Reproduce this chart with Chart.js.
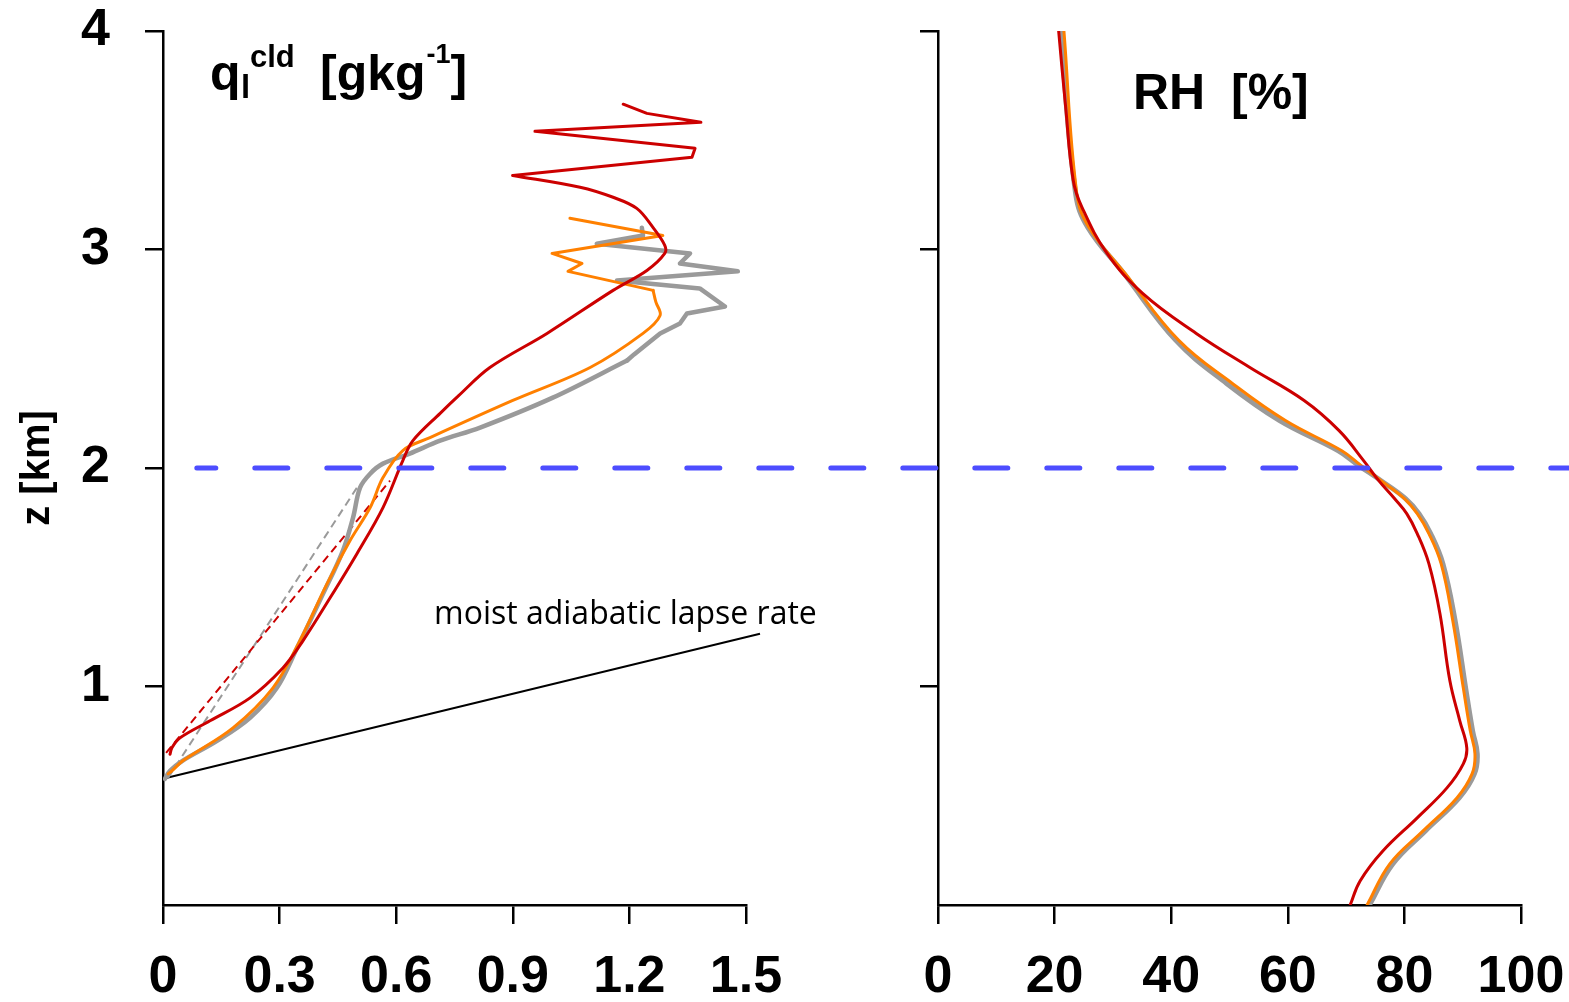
<!DOCTYPE html>
<html>
<head>
<meta charset="utf-8">
<script src="https://cdn.jsdelivr.net/npm/chart.js@4.4.0/dist/chart.umd.min.js"></script>
<style>
  body { margin: 0; background: #fff; }
  #wrap { position: relative; width: 1569px; height: 1002px; }
  canvas { position: absolute; left: 0; top: 0; }
</style>
</head>
<body>
<div id="wrap">
  <canvas id="rhChart" width="1569" height="1002"></canvas>
  <canvas id="qlChart" width="1569" height="1002"></canvas>
</div>
<script>
// ---- tick labels ----
const qlTicks = [0, 0.3, 0.6, 0.9, 1.2, 1.5];
const rhTicks = [0, 20, 40, 60, 80, 100];
const zTicks = [1, 2, 3, 4];

// ---- left panel: cloud liquid water q_l [g/kg] vs height z [km] ----
const qlGrayVal = [0.005, 0.018, 0.05, 0.139, 0.224, 0.293, 0.345, 0.412, 0.463, 0.489, 0.507, 0.533, 0.566, 0.635, 0.713, 0.816, 1.003, 1.194, 1.212, 1.279, 1.33, 1.348, 1.446, 1.381, 1.168, 1.479, 1.33, 1.356, 1.116, 1.235, 1.232];
const qlGrayZ   = [0.577, 0.614, 0.66, 0.751, 0.857, 0.994, 1.177, 1.425, 1.622, 1.773, 1.91, 1.974, 2.02, 2.066, 2.125, 2.185, 2.322, 2.492, 2.52, 2.616, 2.661, 2.707, 2.739, 2.822, 2.858, 2.9, 2.936, 2.982, 3.026, 3.064, 3.1];

const qlOrangeVal = [0.013, 0.023, 0.051, 0.18, 0.283, 0.352, 0.422, 0.481, 0.533, 0.566, 0.617, 0.687, 0.9, 1.099, 1.235, 1.279, 1.268, 1.261, 1.042, 1.078, 1.001, 1.286, 1.047];
const qlOrangeZ   = [0.6, 0.614, 0.66, 0.811, 0.994, 1.209, 1.47, 1.667, 1.819, 1.956, 2.08, 2.139, 2.309, 2.46, 2.616, 2.698, 2.76, 2.813, 2.9, 2.936, 2.982, 3.064, 3.143];

const qlRedVal = [0.018, 0.023, 0.044, 0.121, 0.224, 0.309, 0.36, 0.43, 0.499, 0.566, 0.617, 0.643, 0.713, 0.76, 0.841, 0.988, 1.158, 1.245, 1.291, 1.291, 1.261, 1.219, 1.158, 1.073, 0.9, 1.361, 1.369, 0.957, 1.384, 1.245, 1.184];
const qlRedZ   = [0.69, 0.72, 0.765, 0.843, 0.948, 1.086, 1.209, 1.406, 1.608, 1.819, 2.034, 2.125, 2.25, 2.33, 2.46, 2.616, 2.813, 2.904, 2.982, 3.019, 3.1, 3.188, 3.239, 3.285, 3.339, 3.422, 3.463, 3.541, 3.582, 3.623, 3.665];

// index where each profile turns from smooth to jagged
const grayBreak = 17, orangeBreak = 17, redBreak = 24;

// linear fits below cloud top (thin dashed)
const fitGrayVal = [0.013, 0.499];
const fitGrayZ   = [0.582, 1.91];
const fitRedVal  = [0.008, 0.584];
const fitRedZ    = [0.696, 1.942];

// moist adiabatic reference line
const lapseVal = [0.005, 1.536];
const lapseZ   = [0.58, 1.241];

// inversion height (blue dashed), runs across both panels
const inversionVal = [0.087, 3.62];
const inversionZ   = [2, 2];

// ---- right panel: relative humidity [%] vs z [km] ----
const rhGrayVal = [74.0, 78.0, 83.6, 89.4, 92.0, 92.5, 91.7, 90.5, 88.7, 86.6, 84.5, 82.5, 80.2, 76.0, 72.2, 68.6, 58.6, 49.5, 40.8, 31.9, 25.7, 23.6, 21.0];
const rhGrayZ   = [0, 0.188, 0.339, 0.49, 0.6, 0.692, 0.797, 0.994, 1.301, 1.562, 1.7, 1.791, 1.86, 1.942, 2.011, 2.08, 2.217, 2.387, 2.584, 2.89, 3.101, 3.257, 4.0];

const rhOrangeVal = [73.6, 77.5, 83.2, 89.0, 91.6, 92.1, 91.3, 90.1, 88.3, 86.3, 84.2, 82.2, 80.0, 76.0, 72.6, 69.2, 59.6, 50.5, 41.3, 32.1, 25.9, 23.8, 21.6];
const rhOrangeZ   = [0, 0.188, 0.339, 0.49, 0.6, 0.692, 0.797, 0.994, 1.301, 1.562, 1.7, 1.791, 1.86, 1.942, 2.011, 2.08, 2.217, 2.387, 2.584, 2.89, 3.101, 3.257, 4.0];

const rhRedVal = [70.7, 72.4, 76.3, 82.2, 87.3, 90.1, 90.7, 89.5, 87.8, 86.1, 84.2, 82.2, 80.4, 78.3, 75.6, 73.0, 68.8, 62.8, 53.5, 44.3, 35.1, 29.0, 24.7, 23.2, 21.9, 20.7];
const rhRedZ   = [0, 0.11, 0.247, 0.399, 0.536, 0.646, 0.719, 0.843, 1.026, 1.333, 1.562, 1.7, 1.791, 1.86, 1.942, 2.034, 2.171, 2.309, 2.46, 2.616, 2.799, 2.982, 3.193, 3.316, 3.65, 4.0];

const GRAY = '#9a9a9a', ORANGE = '#ff8000', RED = '#cc0000', BLUE = '#4d4dff';
const FONT = "'Liberation Sans', Arial, Helvetica, sans-serif";

function pts(xs, zs, from, to) {
  return xs.map((v, i) => ({ x: v, y: zs[i] })).slice(from || 0, to);
}

function line(data, color, width, order, extra) {
  return Object.assign({
    data: data, borderColor: color, borderWidth: width, order: order,
    showLine: true, pointRadius: 0, fill: false, tension: 0,
    borderJoinStyle: 'round', borderCapStyle: 'round'
  }, extra || {});
}

function xScale(min, max, ticks) {
  return {
    type: 'linear', min: min, max: max,
    afterBuildTicks: s => { s.ticks = ticks.map(v => ({ value: v })); },
    afterFit: s => { s.height = 97; s.paddingLeft = 0; s.paddingRight = 0; },
    border: { display: true, color: '#000', width: 2.5 },
    grid: { display: true, drawOnChartArea: false, drawTicks: true, tickLength: 19, color: '#000', lineWidth: 2.5 },
    ticks: {
      color: '#000', padding: 28, maxRotation: 0, autoSkip: false,
      font: { family: FONT, size: 52, weight: 'bold', lineHeight: 1 },
      callback: v => String(v)
    }
  };
}

function yScale(width, showLabels) {
  return {
    type: 'linear', min: 0, max: 4,
    afterBuildTicks: s => { s.ticks = zTicks.map(v => ({ value: v })); },
    afterFit: s => { s.width = width; s.paddingTop = 0; s.paddingBottom = 0; },
    border: { display: true, color: '#000', width: 2.5 },
    grid: { display: true, drawOnChartArea: false, drawTicks: true, tickLength: 18, color: '#000', lineWidth: 2.5 },
    ticks: {
      color: '#000', padding: 35, autoSkip: false,
      font: { family: FONT, size: 52, weight: 'bold' },
      callback: v => showLabels ? String(v) : ''
    }
  };
}

const qlText = {
  id: 'qlText',
  afterDraw(chart) {
    const ctx = chart.ctx;
    ctx.save();
    ctx.fillStyle = '#000';
    ctx.textBaseline = 'alphabetic';
    ctx.textAlign = 'left';
    // panel label q_l^cld [gkg^-1]
    ctx.font = "bold 50px " + FONT;
    ctx.fillText('q', 210, 90);
    ctx.font = "bold 33px " + FONT;
    ctx.fillText('l', 241, 98);
    ctx.font = "bold 31px " + FONT;
    ctx.fillText('cld', 250, 67);
    ctx.font = "bold 50px " + FONT;
    ctx.fillText('[gkg', 320, 90);
    let x = 320 + ctx.measureText('[gkg').width + 1;
    ctx.font = "bold 27px " + FONT;
    ctx.fillText('-1', x, 63);
    x += ctx.measureText('-1').width;
    ctx.font = "bold 50px " + FONT;
    ctx.fillText(']', x, 90);

    // axis title
    ctx.save();
    ctx.translate(38, 468);
    ctx.rotate(-Math.PI / 2);
    ctx.textAlign = 'center';
    ctx.textBaseline = 'middle';
    ctx.font = "bold 40px " + FONT;
    ctx.fillText('z [km]', 0, 0);
    ctx.restore();

    // annotation of the lapse-rate line, fitted to its width in the reference
    const label = 'moist adiabatic lapse rate';
    ctx.font = "28px 'Open Sans', 'Noto Sans', sans-serif";
    const w = ctx.measureText(label).width;
    const size = 28 * 383 / w;
    ctx.font = size.toFixed(1) + "px 'Open Sans', 'Noto Sans', sans-serif";
    ctx.fillText(label, 434, 624);
    ctx.restore();
  }
};

const rhText = {
  id: 'rhText',
  afterDraw(chart) {
    const ctx = chart.ctx;
    ctx.save();
    ctx.fillStyle = '#000';
    ctx.textAlign = 'left';
    ctx.textBaseline = 'alphabetic';
    ctx.font = "bold 50px " + FONT;
    ctx.fillText('RH', 1133, 109);
    ctx.fillText('[%]', 1231, 109);
    ctx.restore();
  }
};

new Chart(document.getElementById('rhChart'), {
  type: 'scatter',
  data: {
    datasets: [
      line(pts(rhGrayVal, rhGrayZ), GRAY, 5, 4, { tension: 0.4 }),
      line(pts(rhOrangeVal, rhOrangeZ), ORANGE, 3, 3, { tension: 0.4 }),
      line(pts(rhRedVal, rhRedZ), RED, 3, 2, { tension: 0.4 })
    ]
  },
  options: {
    responsive: false,
    animation: false,
    events: [],
    layout: { padding: { left: 0, top: 31, right: 1569 - 1521, bottom: 0 } },
    plugins: { legend: { display: false }, tooltip: { enabled: false } },
    scales: {
      x: xScale(0, 100, rhTicks),
      y: yScale(938, false)
    }
  },
  plugins: [rhText]
});

new Chart(document.getElementById('qlChart'), {
  type: 'scatter',
  data: {
    datasets: [
      line(pts(inversionVal, inversionZ), BLUE, 5, 1, { borderDash: [33, 39], clip: false, borderDashOffset: 14 }),
      line(pts(lapseVal, lapseZ), '#000', 2, 9, { clip: false, borderCapStyle: 'butt' }),
      line(pts(fitGrayVal, fitGrayZ), GRAY, 2, 6, { borderDash: [8, 5], borderCapStyle: 'butt' }),
      line(pts(fitRedVal, fitRedZ), RED, 2, 5, { borderDash: [8, 5], borderCapStyle: 'butt' }),
      line(pts(qlGrayVal, qlGrayZ, 0, grayBreak + 1), GRAY, 4.5, 4, { tension: 0.35 }),
      line(pts(qlGrayVal, qlGrayZ, grayBreak), GRAY, 4.5, 4),
      line(pts(qlOrangeVal, qlOrangeZ, 0, orangeBreak + 1), ORANGE, 3, 3, { tension: 0.35 }),
      line(pts(qlOrangeVal, qlOrangeZ, orangeBreak), ORANGE, 3, 3),
      line(pts(qlRedVal, qlRedZ, 0, redBreak + 1), RED, 3, 2, { tension: 0.35 }),
      line(pts(qlRedVal, qlRedZ, redBreak), RED, 3, 2)
    ]
  },
  options: {
    responsive: false,
    animation: false,
    events: [],
    layout: { padding: { left: 0, top: 31, right: 1569 - 746, bottom: 0 } },
    plugins: { legend: { display: false }, tooltip: { enabled: false } },
    scales: {
      x: xScale(0, 1.5, qlTicks),
      y: yScale(163, true)
    }
  },
  plugins: [qlText]
});
</script>
</body>
</html>
